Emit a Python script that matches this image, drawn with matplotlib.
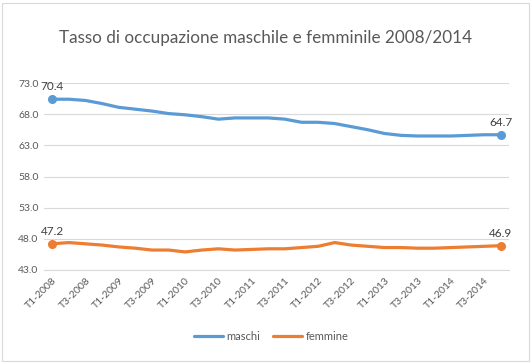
import matplotlib
matplotlib.use("Agg")
import matplotlib.pyplot as plt
from matplotlib.patches import Rectangle

# quarterly employment rate, T1-2008 .. T4-2014
quarters = [f"T{q}-{y}" for y in range(2008, 2015) for q in range(1, 5)]
maschi = [70.4, 70.4, 70.2, 69.7, 69.1, 68.8, 68.5, 68.1, 67.9, 67.6,
          67.2, 67.4, 67.4, 67.4, 67.2, 66.7, 66.7, 66.5, 66.0, 65.5,
          64.9, 64.6, 64.5, 64.5, 64.5, 64.6, 64.7, 64.7]
femmine = [47.2, 47.4, 47.2, 47.0, 46.7, 46.5, 46.2, 46.2, 45.9, 46.2,
           46.4, 46.2, 46.3, 46.4, 46.4, 46.6, 46.8, 47.4, 47.0, 46.8,
           46.6, 46.6, 46.5, 46.5, 46.6, 46.7, 46.8, 46.9]
yticks = [43.0, 48.0, 53.0, 58.0, 63.0, 68.0, 73.0]

plt.rcParams["font.family"] = ["Lato", "DejaVu Sans"]
BLUE = "#5B9BD5"
ORANGE = "#ED7D31"
TXT = "#595959"

fig = plt.figure(figsize=(5.32, 3.63), dpi=100)
fig.patches.append(Rectangle((0.004, 0.006), 0.99, 0.985, transform=fig.transFigure,
                             fill=False, edgecolor="#d9d9d9", lw=0.8))
ax = fig.add_axes([0.0827, 0.2562, 0.8743, 0.5151])

x = list(range(len(quarters)))
for vals, col, name in ((maschi, BLUE, "maschi"), (femmine, ORANGE, "femmine")):
    ax.plot(x, vals, color=col, lw=2.3, solid_capstyle="round", label=name)
    ax.plot([x[0], x[-1]], [vals[0], vals[-1]], "o", color=col, ms=5.5)
    ax.annotate(f"{vals[0]:.1f}", (x[0], vals[0]), xytext=(0, 5), textcoords="offset points",
                ha="center", va="bottom", fontsize=8.5, color="#404040")
    ax.annotate(f"{vals[-1]:.1f}", (x[-1], vals[-1]), xytext=(0, 5), textcoords="offset points",
                ha="center", va="bottom", fontsize=8.5, color="#404040")

ax.set_xlim(-0.5, len(quarters) - 0.5)
ax.set_ylim(43, 73)
ax.set_yticks(yticks)
ax.set_yticklabels([f"{v:.1f}" for v in yticks], fontsize=7.5, color=TXT)
ax.set_xticks(x[::2])
ax.set_xticklabels(quarters[::2], rotation=45, ha="right", rotation_mode="anchor",
                   fontsize=7.5, color=TXT)
ax.tick_params(length=0, pad=4)
ax.grid(axis="y", color="#d9d9d9", lw=0.8)
ax.set_axisbelow(True)
for s in ax.spines.values():
    s.set_visible(False)
ax.spines["bottom"].set_visible(True)
ax.spines["bottom"].set_color("#d9d9d9")

fig.text(0.5, 0.895, "Tasso di occupazione maschile e femminile 2008/2014",
         ha="center", va="center", fontsize=12.3, color=TXT)
fig.legend(loc="center", bbox_to_anchor=(0.51, 0.072), ncol=2, frameon=False,
           fontsize=8, handlelength=2.6, handletextpad=0.3, columnspacing=1.2,
           labelcolor=TXT)

fig.savefig("out.png", dpi=100)
